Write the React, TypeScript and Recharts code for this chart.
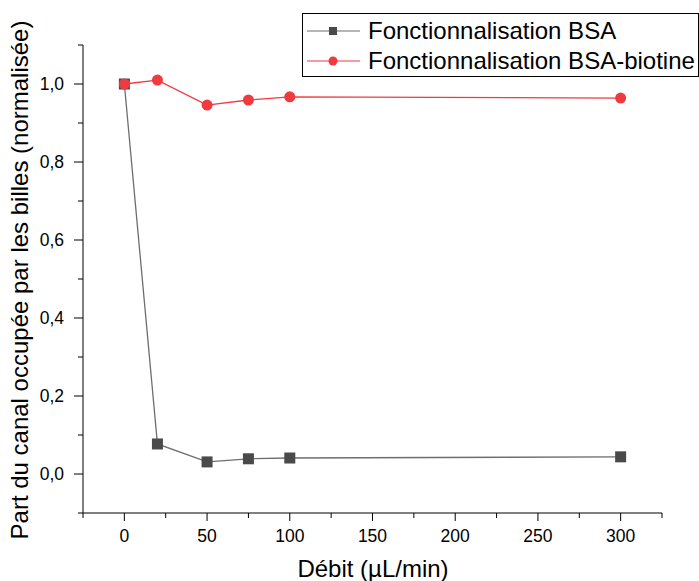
import React from 'react';
import { LineChart, Line, XAxis, YAxis } from 'recharts';

// Débit (µL/min)
const debits = [0, 20, 50, 75, 100, 300];
// Part du canal occupée (normalisée)
const bsaValues = [1.0, 0.077, 0.031, 0.039, 0.041, 0.044];
const biotineValues = [1.0, 1.01, 0.946, 0.959, 0.967, 0.964];

const xTicks = [-25, 0, 25, 50, 75, 100, 125, 150, 175, 200, 225, 250, 275, 300, 325];
const xMajor = [0, 50, 100, 150, 200, 250, 300];
const yTicks = [-0.1, 0, 0.1, 0.2, 0.3, 0.4, 0.5, 0.6, 0.7, 0.8, 0.9, 1.0, 1.1];
const yMajor = [0, 0.2, 0.4, 0.6, 0.8, 1.0];

const FONT = '"Liberation Sans", Arial, sans-serif';
const BSA_COLOR = '#4a4a4a';
const BSA_LINE = '#6e6e6e';
const BIO_COLOR = '#ef3b3f';

const data = debits.map((d, i) => ({ debit: d, bsa: bsaValues[i], biotine: biotineValues[i] }));

const isMajor = (list: number[], v: number) => list.some(m => Math.abs(m - v) < 1e-6);

const XTick = (props: any) => {
  const { x, y, payload } = props;
  const major = isMajor(xMajor, payload.value);
  return (
    <g>
      <line x1={x} x2={x} y1={y} y2={y + (major ? 8 : 5)} stroke="#000" strokeWidth={1} />
      {major && (
        <text x={x} y={y + 29} textAnchor="middle" fontSize={17.5} fontFamily={FONT} fill="#000">
          {payload.value}
        </text>
      )}
    </g>
  );
};

const YTick = (props: any) => {
  const { x, y, payload } = props;
  const major = isMajor(yMajor, payload.value);
  return (
    <g>
      <line x1={x} x2={x - (major ? 9 : 5)} y1={y} y2={y} stroke="#000" strokeWidth={1} />
      {major && (
        <text x={x - 19} y={y + 6} textAnchor="end" fontSize={17.5} fontFamily={FONT} fill="#000">
          {payload.value.toFixed(1).replace('.', ',')}
        </text>
      )}
    </g>
  );
};

const SquareDot = (props: any) => {
  const { cx, cy, index } = props;
  if (cx == null || cy == null) return null;
  return <rect key={`sq-${index}`} x={cx - 5.5} y={cy - 5.5} width={11} height={11} fill={BSA_COLOR} />;
};

const CircleDot = (props: any) => {
  const { cx, cy, index } = props;
  if (cx == null || cy == null) return null;
  return <circle key={`ci-${index}`} cx={cx} cy={cy} r={5.5} fill={BIO_COLOR} />;
};

const LegendBox = () => (
  <div
    style={{
      position: 'absolute',
      left: 302,
      top: 13,
      border: '1px solid #000',
      width: 397,
      height: 64,
      boxSizing: 'border-box',
      fontFamily: FONT,
      fontSize: 24,
      background: '#fff',
      whiteSpace: 'nowrap',
      overflow: 'hidden',
    }}
  >
    <div style={{ display: 'flex', alignItems: 'center', height: 30, marginTop: 2 }}>
      <svg width={62} height={20} style={{ flex: 'none' }}>
        <line x1={4} x2={57} y1={10} y2={10} stroke={BSA_LINE} strokeWidth={1.2} />
        <rect x={26} y={6} width={8} height={8} fill={BSA_COLOR} />
      </svg>
      <span style={{ marginLeft: 3 }}>Fonctionnalisation BSA</span>
    </div>
    <div style={{ display: 'flex', alignItems: 'center', height: 30 }}>
      <svg width={62} height={20} style={{ flex: 'none' }}>
        <line x1={4} x2={57} y1={10} y2={10} stroke={BIO_COLOR} strokeWidth={1.2} />
        <circle cx={30} cy={10} r={4.5} fill={BIO_COLOR} />
      </svg>
      <span style={{ marginLeft: 3 }}>Fonctionnalisation BSA-biotine</span>
    </div>
  </div>
);

export default function App() {
  return (
    <div style={{ position: 'absolute', left: 0, top: 0, width: 699, height: 581, background: '#fff', overflow: 'hidden' }}>
      <LineChart width={699} height={581} data={data} margin={{ top: 45, right: 37, bottom: 0, left: 0 }}>
        <XAxis
          dataKey="debit"
          type="number"
          domain={[-25, 325]}
          ticks={xTicks}
          interval={0}
          allowDataOverflow
          height={68}
          tickSize={0}
          tickMargin={0}
          tickLine={false}
          axisLine={{ stroke: '#000', strokeWidth: 1 }}
          tick={<XTick />}
          label={{
            value: 'Débit (µL/min)',
            content: () => (
              <text x={373} y={577} textAnchor="middle" fontSize={24} fontFamily={FONT} fill="#000">
                Débit (µL/min)
              </text>
            ),
          }}
        />
        <YAxis
          type="number"
          domain={[-0.1, 1.1]}
          ticks={yTicks}
          interval={0}
          allowDataOverflow
          width={83}
          tickSize={0}
          tickMargin={0}
          tickLine={false}
          axisLine={{ stroke: '#000', strokeWidth: 1 }}
          tick={<YTick />}
          label={{
            value: 'Part du canal occupée par les billes (normalisée)',
            content: () => (
              <text
                x={0}
                y={0}
                transform="translate(28, 280) rotate(-90)"
                textAnchor="middle"
                fontSize={24}
                fontFamily={FONT}
                fill="#000"
              >
                Part du canal occupée par les billes (normalisée)
              </text>
            ),
          }}
        />
        <Line
          dataKey="bsa"
          name="Fonctionnalisation BSA"
          stroke={BSA_LINE}
          strokeWidth={1.3}
          dot={<SquareDot />}
          activeDot={false}
          isAnimationActive={false}
        />
        <Line
          dataKey="biotine"
          name="Fonctionnalisation BSA-biotine"
          stroke={BIO_COLOR}
          strokeWidth={1.3}
          dot={<CircleDot />}
          activeDot={false}
          isAnimationActive={false}
        />
      </LineChart>
      <LegendBox />
    </div>
  );
}
